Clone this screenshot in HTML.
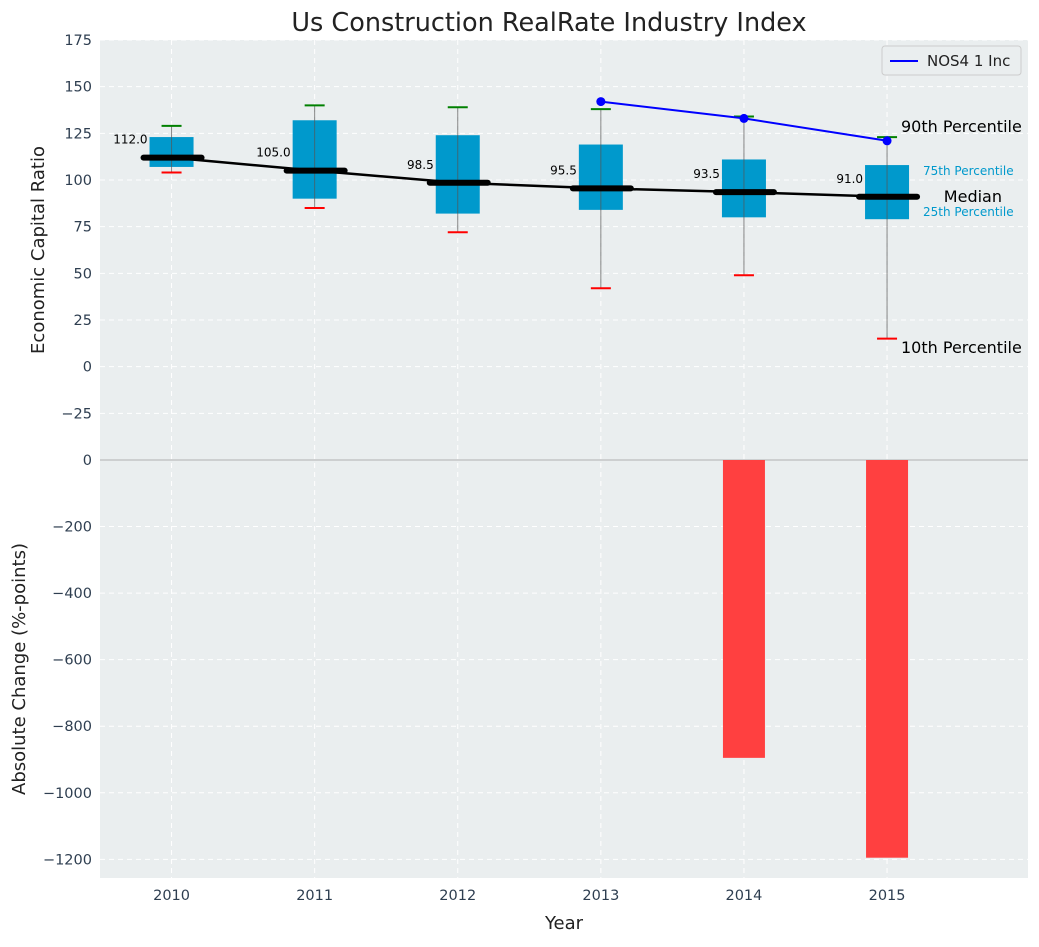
<!DOCTYPE html>
<html><head><meta charset="utf-8"><style>
body{margin:0;background:#fff;font-family:"Liberation Sans","DejaVu Sans",sans-serif}
svg text{font-family:"DejaVu Sans","Liberation Sans",sans-serif}
</style></head><body>
<svg id="c" width="1039" height="942" xmlns="http://www.w3.org/2000/svg"></svg>
<script>
const years=[2010,2011,2012,2013,2014,2015];
const whiskLow=[104,85,72,42,49,15];
const whiskHigh=[129,140,139,138,134,123];
const q1=[107,90,82,84,80,79];
const q3=[123,132,124,119,111,108];
const medians=[112,105,98.5,95.5,93.5,91];
const lineYears=[2013,2014,2015];
const lineVals=[142,133,121];
const barYears=[2014,2015];
const barVals=[-895,-1195];
const topTicks=[-25,0,25,50,75,100,125,150,175];
const botTicks=[-1200,-1000,-800,-600,-400,-200,0];

const L=100,R=1028;
const x=v=>L+(v-2009.5)/(2015.985-2009.5)*(R-L);
const yT=v=>40+(175-v)/225*420;
const yB=v=>460+(0-v)/1256*418;
const S=document.getElementById('c');const NS='http://www.w3.org/2000/svg';
function el(t,a,txt){const e=document.createElementNS(NS,t);for(const k in a)e.setAttribute(k,a[k]);if(txt!==undefined)e.textContent=txt;S.appendChild(e);return e;}

let e=el('rect',{x:L,y:40,width:R-L,height:420,fill:'#eaeeef'});

e=el('rect',{x:L,y:460,width:R-L,height:418,fill:'#eaeeef'});

years.forEach(v=>{e=el('line',{x1:x(v),x2:x(v),y1:40,y2:878,stroke:'#fff','stroke-dasharray':'5,4','stroke-width':1});
});
topTicks.forEach(v=>{e=el('line',{x1:L,x2:R,y1:yT(v),y2:yT(v),stroke:'#fff','stroke-dasharray':'5,4'});

e=el('text',{x:L-8,y:yT(v)+5,'text-anchor':'end','font-size':14.5,fill:'#2e3e50'},v<0?'\u2212'+(-v):v);
});
botTicks.forEach(v=>{e=el('line',{x1:L,x2:R,y1:yB(v),y2:yB(v),stroke:'#fff','stroke-dasharray':'5,4'});

e=el('text',{x:L-8,y:yB(v)+5,'text-anchor':'end','font-size':14.5,fill:'#2e3e50'},v<0?'\u2212'+(-v):v);
});
e=el('line',{x1:L,x2:R,y1:460,y2:460,stroke:'#b0b0b0'});

barYears.forEach((v,i)=>{e=el('rect',{x:x(v)-21,y:yB(0),width:42,height:yB(barVals[i])-yB(0),fill:'#ff4040'});
});
years.forEach((v,i)=>{const cx=x(v);
e=el('rect',{x:cx-22,y:yT(q3[i]),width:44,height:yT(q1[i])-yT(q3[i]),fill:'#0099cc'});

e=el('line',{x1:cx,x2:cx,y1:yT(whiskHigh[i]),y2:yT(whiskLow[i]),stroke:'#555','stroke-width':1,opacity:0.7});

e=el('line',{x1:cx-10,x2:cx+10,y1:yT(whiskHigh[i]),y2:yT(whiskHigh[i]),stroke:'green','stroke-width':2});

e=el('line',{x1:cx-10,x2:cx+10,y1:yT(whiskLow[i]),y2:yT(whiskLow[i]),stroke:'red','stroke-width':2});

});
e=el('polyline',{points:years.map((v,i)=>x(v)+','+yT(medians[i])).join(' '),fill:'none',stroke:'#000','stroke-width':2.5});

years.forEach((v,i)=>{const cx=x(v);
e=el('line',{x1:cx-28,x2:cx+30,y1:yT(medians[i]),y2:yT(medians[i]),stroke:'#000','stroke-width':6,'stroke-linecap':'round'});

e=el('text',{x:cx-24,y:yT(medians[i])-14,'text-anchor':'end','font-size':12,fill:'#000'},medians[i].toFixed(1));
});
e=el('polyline',{points:lineYears.map((v,i)=>x(v)+','+yT(lineVals[i])).join(' '),fill:'none',stroke:'blue','stroke-width':2});

lineYears.forEach((v,i)=>{e=el('circle',{cx:x(v),cy:yT(lineVals[i]),r:4.5,fill:'blue'});
});
const ann=[[901,132,'90th Percentile',16,'#000','start'],[923,175,'75th Percentile',12,'#0099cc','start'],[1002,202,'Median',16,'#000','end'],[923,216,'25th Percentile',12,'#0099cc','start'],[901,353,'10th Percentile',16,'#000','start']];
ann.forEach(a=>{e=el('text',{x:a[0],y:a[1],'font-size':a[3],fill:a[4],'text-anchor':a[5]},a[2]);
});
years.forEach(v=>{e=el('text',{x:x(v),y:900,'text-anchor':'middle','font-size':14.5,fill:'#2e3e50'},v);
});
e=el('rect',{x:882,y:46,width:139,height:29,fill:'#eaeeef',stroke:'#ccc',rx:3});

e=el('line',{x1:890,x2:918,y1:61,y2:61,stroke:'blue','stroke-width':2});

e=el('text',{x:927,y:66,'font-size':15,fill:'#222'},'NOS4 1 Inc');

e=el('text',{x:549,y:31,'text-anchor':'middle','font-size':25.5,fill:'#222'},'Us Construction RealRate Industry Index');

e=el('text',{x:564,y:929,'text-anchor':'middle','font-size':18,fill:'#222'},'Year');

e=el('text',{x:0,y:0,'text-anchor':'middle','font-size':18,fill:'#222',transform:'translate(44,250) rotate(-90)'},'Economic Capital Ratio');

e=el('text',{x:0,y:0,'text-anchor':'middle','font-size':18,fill:'#222',transform:'translate(25,669) rotate(-90)'},'Absolute Change (%-points)');

</script>
</body></html>
